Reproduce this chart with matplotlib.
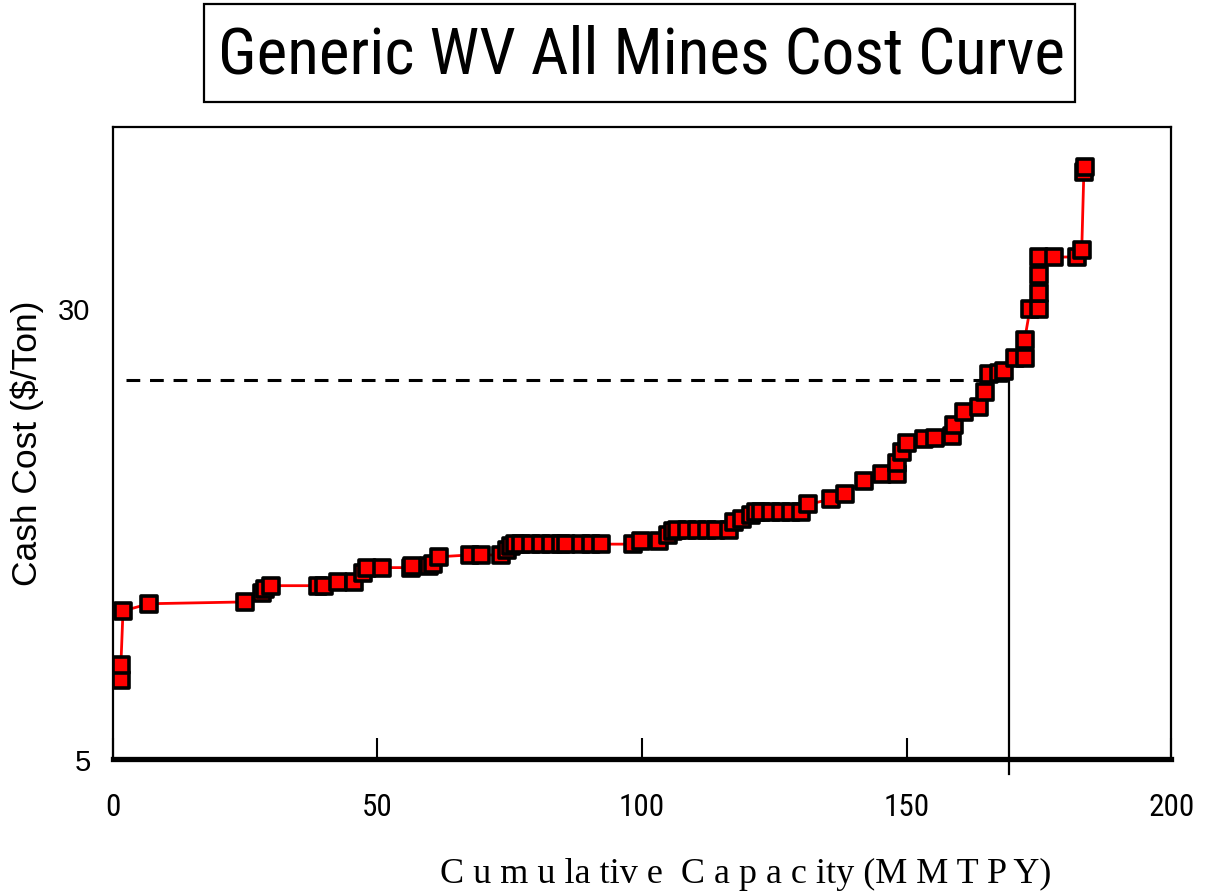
import matplotlib
matplotlib.use("Agg")
import matplotlib.pyplot as plt
from matplotlib.markers import MarkerStyle
from matplotlib.patches import Rectangle

# cumulative capacity (MMTPY) and cash cost ($/Ton)
capacity = [1.5, 1.5, 1.9, 6.8, 25.0, 28.2, 28.8, 29.9, 38.8, 39.8, 42.6, 45.6,
            47.2, 48.1, 50.9, 56.3, 56.6, 59.7, 60.4, 61.6, 67.4, 69.5, 73.3,
            74.4, 75.2, 75.9, 77.1, 79.0, 80.9, 82.8, 84.7, 85.6, 88.4, 90.3,
            92.2, 98.3, 99.8, 103.2, 104.9, 105.9, 106.6, 108.5, 110.4, 112.3,
            114.0, 116.5, 117.4, 118.9, 120.6, 121.6, 122.5, 124.4, 126.3,
            128.2, 130.1, 131.4, 135.8, 138.3, 141.9, 145.3, 148.1, 148.1,
            149.1, 150.0, 153.2, 155.3, 158.5, 158.9, 160.8, 163.6, 164.8,
            165.5, 167.4, 168.4, 170.5, 172.3, 172.3, 173.3, 175.0, 175.0,
            175.0, 175.0, 177.8, 182.2, 183.1, 183.5, 183.7]
cost = [9.4, 10.2, 13.2, 13.6, 13.7, 14.2, 14.4, 14.6, 14.6, 14.6, 14.8, 14.8,
        15.3, 15.6, 15.6, 15.6, 15.7, 15.7, 15.8, 16.2, 16.3, 16.3, 16.3,
        16.6, 16.8, 16.9, 16.9, 16.9, 16.9, 16.9, 16.9, 16.9, 16.9, 16.9,
        16.9, 16.9, 17.1, 17.1, 17.4, 17.6, 17.7, 17.7, 17.7, 17.7,
        17.7, 17.7, 18.1, 18.3, 18.5, 18.7, 18.7, 18.7, 18.7,
        18.7, 18.7, 19.1, 19.4, 19.7, 20.4, 20.8, 20.8, 21.4,
        22.0, 22.5, 22.7, 22.8, 22.9, 23.5, 24.2, 24.5, 25.3,
        26.3, 26.4, 26.5, 27.2, 27.2, 28.2, 29.9, 29.9, 30.8,
        31.8, 32.8, 32.8, 32.8, 33.2, 37.5, 37.8]

price_level = 26.0
demand_cap = 169.3
x_ticks = [0, 50, 100, 150, 200]
y_ticks = [5, 30]

narrow = ["Roboto Condensed", "DejaVu Sans"]

fig = plt.figure(figsize=(12.08, 8.95), dpi=100)
ax = fig.add_axes([0.0935, 0.1508, 0.8760, 0.7062])

ax.plot([2.5, demand_cap], [price_level, price_level], color="black",
        lw=2.2, ls=(0, (4.5, 3.2)), zorder=2)
ax.plot([demand_cap, demand_cap], [price_level, 4.17], color="black",
        lw=1.6, clip_on=False, zorder=2)

ax.plot(capacity, cost, color="#ff0000", lw=2.0, zorder=3,
        marker=MarkerStyle("s", joinstyle="round"), ms=12,
        mfc="#ff0000", mec="black", mew=2.6)

ax.set_xlim(0, 200)
ax.set_ylim(5, 40)
ax.set_xticks(x_ticks)
ax.set_yticks(y_ticks)
ax.tick_params(axis="x", direction="in", length=15, width=1.5, pad=24,
               labelsize=22.5)
ax.tick_params(axis="y", length=0, pad=16, labelsize=21)
for lab in ax.get_xticklabels():
    lab.set_family(narrow)
for lab in ax.get_yticklabels():
    lab.set_family("Liberation Sans")

for side in ["left", "top", "right"]:
    ax.spines[side].set_linewidth(1.6)
ax.spines["bottom"].set_linewidth(3.8)

fig.text(27 / 1208, 0.5045, "Cash Cost ($/Ton)", fontsize=25.5,
         family="Liberation Sans", rotation=90, ha="center", va="center")
fig.text(0.617, 0.023, "C u m u la tiv e  C a p a c ity (M M T P Y)",
         fontsize=26, family="Liberation Serif", ha="center", va="center")

# title in a box
fig.patches.append(Rectangle((204 / 1208, 1 - 103 / 895), 871 / 1208, 98 / 895,
                             transform=fig.transFigure, fill=False,
                             lw=1.6, ec="black"))
fig.text(641 / 1208, 1 - 56 / 895, "Generic WV All Mines Cost Curve",
         fontsize=47, family=narrow, ha="center", va="center")

fig.savefig("out.png", dpi=100)
